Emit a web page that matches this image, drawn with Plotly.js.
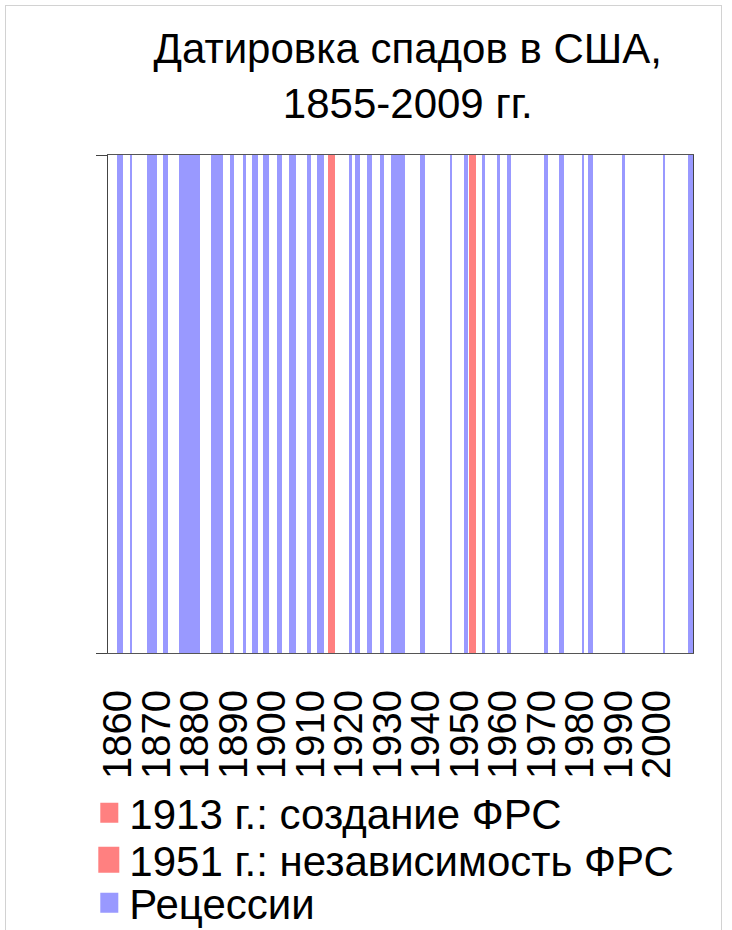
<!DOCTYPE html>
<html><head><meta charset="utf-8">
<script src="https://cdn.plot.ly/plotly-3.0.1.min.js"></script>
<style>
html,body{margin:0;padding:0;background:#fff;overflow:hidden}
#frame{position:absolute;left:5px;top:5px;width:717px;height:960px;border:1px solid #d2d2d2;box-sizing:border-box}
#chart{position:absolute;left:0;top:0;width:732px;height:930px}
</style></head><body>
<div id="frame"></div>
<div id="chart"></div>
<script>
// NBER recessions, peak month -> trough month
const recessionStart = ['1857-06','1860-10','1865-04','1869-06','1873-10','1882-03','1887-03','1890-07','1893-01','1895-12','1899-06','1902-09','1907-05','1910-01','1913-01','1918-08','1920-01','1923-05','1926-10','1929-08','1937-05','1945-02','1948-11','1953-07','1957-08','1960-04','1969-12','1973-11','1980-01','1981-07','1990-07','2001-03','2007-12'];
const recessionEnd   = ['1858-12','1861-06','1867-12','1870-12','1879-03','1885-05','1888-04','1891-05','1894-06','1897-06','1900-12','1904-08','1908-06','1912-01','1914-12','1919-03','1921-07','1924-07','1927-11','1933-03','1938-06','1945-10','1949-10','1954-05','1958-04','1961-02','1970-11','1975-03','1980-07','1982-11','1991-03','2001-11','2009-06'];
// Fed events (span marked in red)
const fedCreationStart = ['1913-01'];
const fedCreationEnd   = ['1914-12'];
const fedIndepStart    = ['1950-01'];
const fedIndepEnd      = ['1951-12'];
const tickYears  = [1860,1870,1880,1890,1900,1910,1920,1930,1940,1950,1960,1970,1980,1990,2000];
const tickLabels = ['1860','1870','1880','1890','1900','1910','1920','1930','1940','1950','1960','1970','1980','1990','2000'];
const titleText = 'Датировка спадов в США,<br>1855-2009 гг.';
const names = ['1913 г.: создание ФРС','1951 г.: независимость ФРС','Рецессии'];

const FONT = '"Liberation Sans", Arial, sans-serif';
function dec(s){ const p = s.split('-'); return +p[0] + (+p[1]-1)/12; }
function spans(starts, ends, h){
  const s = starts.map(dec), e = ends.map(dec);
  return {x: s.map((v,i)=>(v+e[i])/2), width: s.map((v,i)=>e[i]-v), y: s.map(()=>h)};
}
const rec = spans(recessionStart, recessionEnd, 1);
const f1 = spans(fedCreationStart, fedCreationEnd, 1.008);
const f2 = spans(fedIndepStart, fedIndepEnd, 1.008);

const BLUE = '#9999ff', RED = '#ff8080';
const traces = [
  {type:'bar', name:names[2], x:rec.x, y:rec.y, width:rec.width, base:0,
   marker:{color:BLUE, line:{width:0}}, legend:'legend3', hoverinfo:'x'},
  {type:'bar', name:names[0], x:f1.x, y:f1.y, width:f1.width, base:0,
   marker:{color:RED, line:{width:0}}, legend:'legend', cliponaxis:false, hoverinfo:'x'},
  {type:'bar', name:names[1], x:f2.x, y:f2.y, width:f2.width, base:0,
   marker:{color:RED, line:{width:0}}, legend:'legend2', cliponaxis:false, hoverinfo:'x'},
  {type:'scatter', mode:'markers', x:tickYears, y:tickYears.map(()=>null), xaxis:'x2', yaxis:'y',
   showlegend:false, hoverinfo:'skip'}
];
const legBase = {xref:'container', yref:'container', xanchor:'left', yanchor:'middle',
  bgcolor:'rgba(0,0,0,0)', font:{family:FONT, size:42, color:'#000'}, itemclick:false};
const layout = {
  width:732, height:930,
  margin:{l:108, r:39, t:155, b:277, autoexpand:false},
  paper_bgcolor:'rgba(0,0,0,0)', plot_bgcolor:'#fff',
  font:{family:FONT, color:'#000'},
  barmode:'overlay', bargap:0,
  title:{text:titleText, font:{family:FONT, size:42, color:'#000'},
    xref:'container', x:0.557, xanchor:'center', yref:'container', y:1-63/930, yanchor:'top'},
  xaxis:{range:[1855,2009.15], showline:true, mirror:true, linecolor:'#555', linewidth:1,
    showticklabels:false, ticks:'', showgrid:false, zeroline:false, fixedrange:true},
  xaxis2:{overlaying:'x', side:'bottom', anchor:'y', range:[1857.4,2009.35],
    tickmode:'array', tickvals:tickYears, ticktext:tickLabels, tickangle:-90,
    tickfont:{family:FONT, size:40, color:'#000'}, ticks:'', showline:false,
    showgrid:false, zeroline:false, ticklabelstandoff:28, fixedrange:true},
  yaxis:{range:[0,1], showline:true, mirror:true, linecolor:'#444', linewidth:1,
    ticks:'outside', tickvals:[0,1], ticklen:11, tickcolor:'#444',
    showticklabels:false, showgrid:false, zeroline:false, fixedrange:true},
  showlegend:true,
  legend:Object.assign({x:0.122, y:1-813/930}, legBase),
  legend2:Object.assign({x:0.122, y:1-860/930}, legBase),
  legend3:Object.assign({x:0.122, y:1-903/930}, legBase)
};
// larger legend swatches, as in the reference
const swatch = {'legend':'M9,10H-9V-10H9Z', 'legend2':'M10,13H-11V-13H10Z', 'legend3':'M9,10H-9V-10H9Z'};
Plotly.newPlot('chart', traces, layout, {displayModeBar:false, staticPlot:true}).then(gd => {
  Object.keys(swatch).forEach(k => {
    gd.querySelectorAll('g.' + k + ' .legendpoints path').forEach(p => p.setAttribute('d', swatch[k]));
  });
});
</script>
</body></html>
